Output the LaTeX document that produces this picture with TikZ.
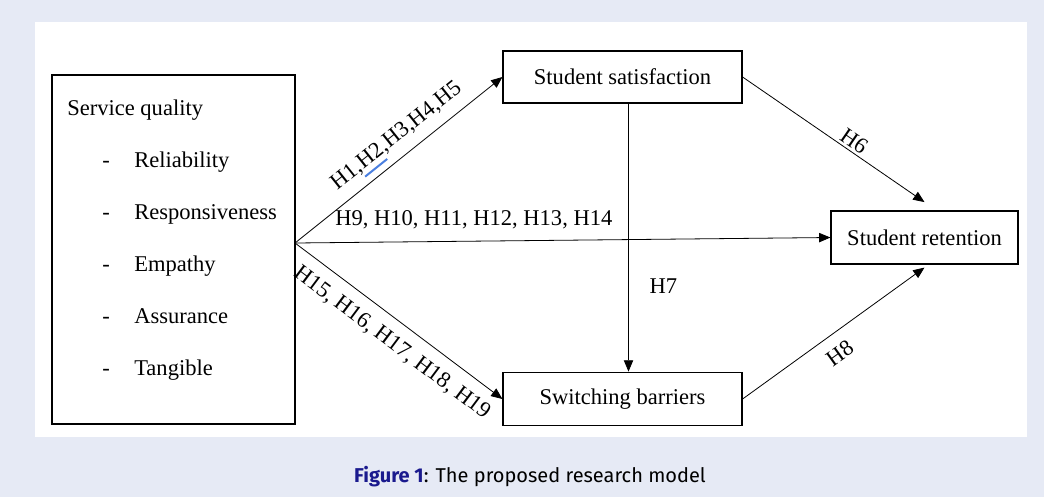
\documentclass[tikz,border=0pt]{standalone}
\usepackage{fontspec}
\setmainfont{Liberation Serif}
\newfontfamily\capfont{Fira Sans}
\usetikzlibrary{positioning}
\usetikzlibrary{arrows.meta}
\usetikzlibrary{calc}
\definecolor{pagebg}{HTML}{E6EAF5}
\definecolor{capblue}{HTML}{1A1A8E}
\definecolor{squig}{HTML}{4A7FE0}
\tikzset{box/.style = {draw, line width=1.1pt, inner sep=0pt,
                       font=\fontsize{16.9}{20}\selectfont}}
\tikzset{arr/.style = {-{Triangle[length=8.5pt,width=7pt]}, line width=0.6pt}}
\tikzset{lbl/.style = {font=\fontsize{16.9}{20}\selectfont, inner sep=2pt}}
\tikzset{item/.style = {lbl, inner sep=0pt, anchor=base west}}

\begin{document}
\begin{tikzpicture}[x=0.75pt, y=-0.75pt]
      \fill[pagebg] (0,0) rectangle (1044,497);
      \fill[white] (35,22) rectangle (1027,437);
      \useasboundingbox (0,0) rectangle (1044,497);

      \node[box, minimum width=182pt, minimum height=262pt] (sq) at (173.5,249.5) {};
      \node[item] (sqt) at (67,115) {Service quality};
      \node[item] (d1) at (102,167) {-};
      \node[item] (i1) at (134,167) {Reliability};
      \node[item] (d2) at (102,219) {-};
      \node[item] (i2) at (134,219) {Responsiveness};
      \node[item] (d3) at (102,271) {-};
      \node[item] (i3) at (134,271) {Empathy};
      \node[item] (d4) at (102,323) {-};
      \node[item] (i4) at (134,323) {Assurance};
      \node[item] (d5) at (102,375) {-};
      \node[item] (i5) at (134,375) {Tangible};

      \node[box, minimum width=179pt, minimum height=39pt] (sat) at (622.5,77) {Student satisfaction};
      \node[box, minimum width=140pt, minimum height=40pt] (ret) at (924.5,237.5) {Student retention};
      \node[box, minimum width=179pt, minimum height=40pt] (sw) at (622.5,399) {Switching barriers};
      \coordinate (hub) at (295,243);

      \draw[arr] (hub) -- (sat.west)
            node[lbl, pos=0.55, above=6pt, sloped] (h1) {H1,H2,H3,H4,H5};
      \draw[squig, line width=1.5pt]
            ($(h1.south west)!0.2!(h1.south east)$) -- ($(h1.south west)!0.37!(h1.south east)$);
      \draw[arr] (hub) -- (ret.west)
            node[lbl, pos=0.334, above=7pt] (h9) {H9, H10, H11, H12, H13, H14};
      \draw[arr] (hub) -- (sw.west)
            node[lbl, pos=0.53, below=7pt, sloped] (h15) {H15, H16, H17, H18, H19};
      \draw[arr] (sat.east) -- ([yshift=6pt]ret.north)
            node[lbl, pos=0.58, above, sloped] (h6) {H6};
      \draw[arr] ([xshift=4.5pt]sat.south) -- ([xshift=4.5pt]sw.north)
            node[lbl, pos=0.68, right, xshift=13.5pt] (h7) {H7};
      \draw[arr] (sw.east) -- ([yshift=-2pt]ret.south)
            node[lbl, pos=0.47, below=7pt, sloped] (h8) {H8};

      \node[font=\capfont\fontsize{15}{17}\selectfont, anchor=base] (cap) at (530,482)
            {\textcolor{capblue}{\bfseries Figure 1}: The proposed research model};
\end{tikzpicture}
\end{document}
